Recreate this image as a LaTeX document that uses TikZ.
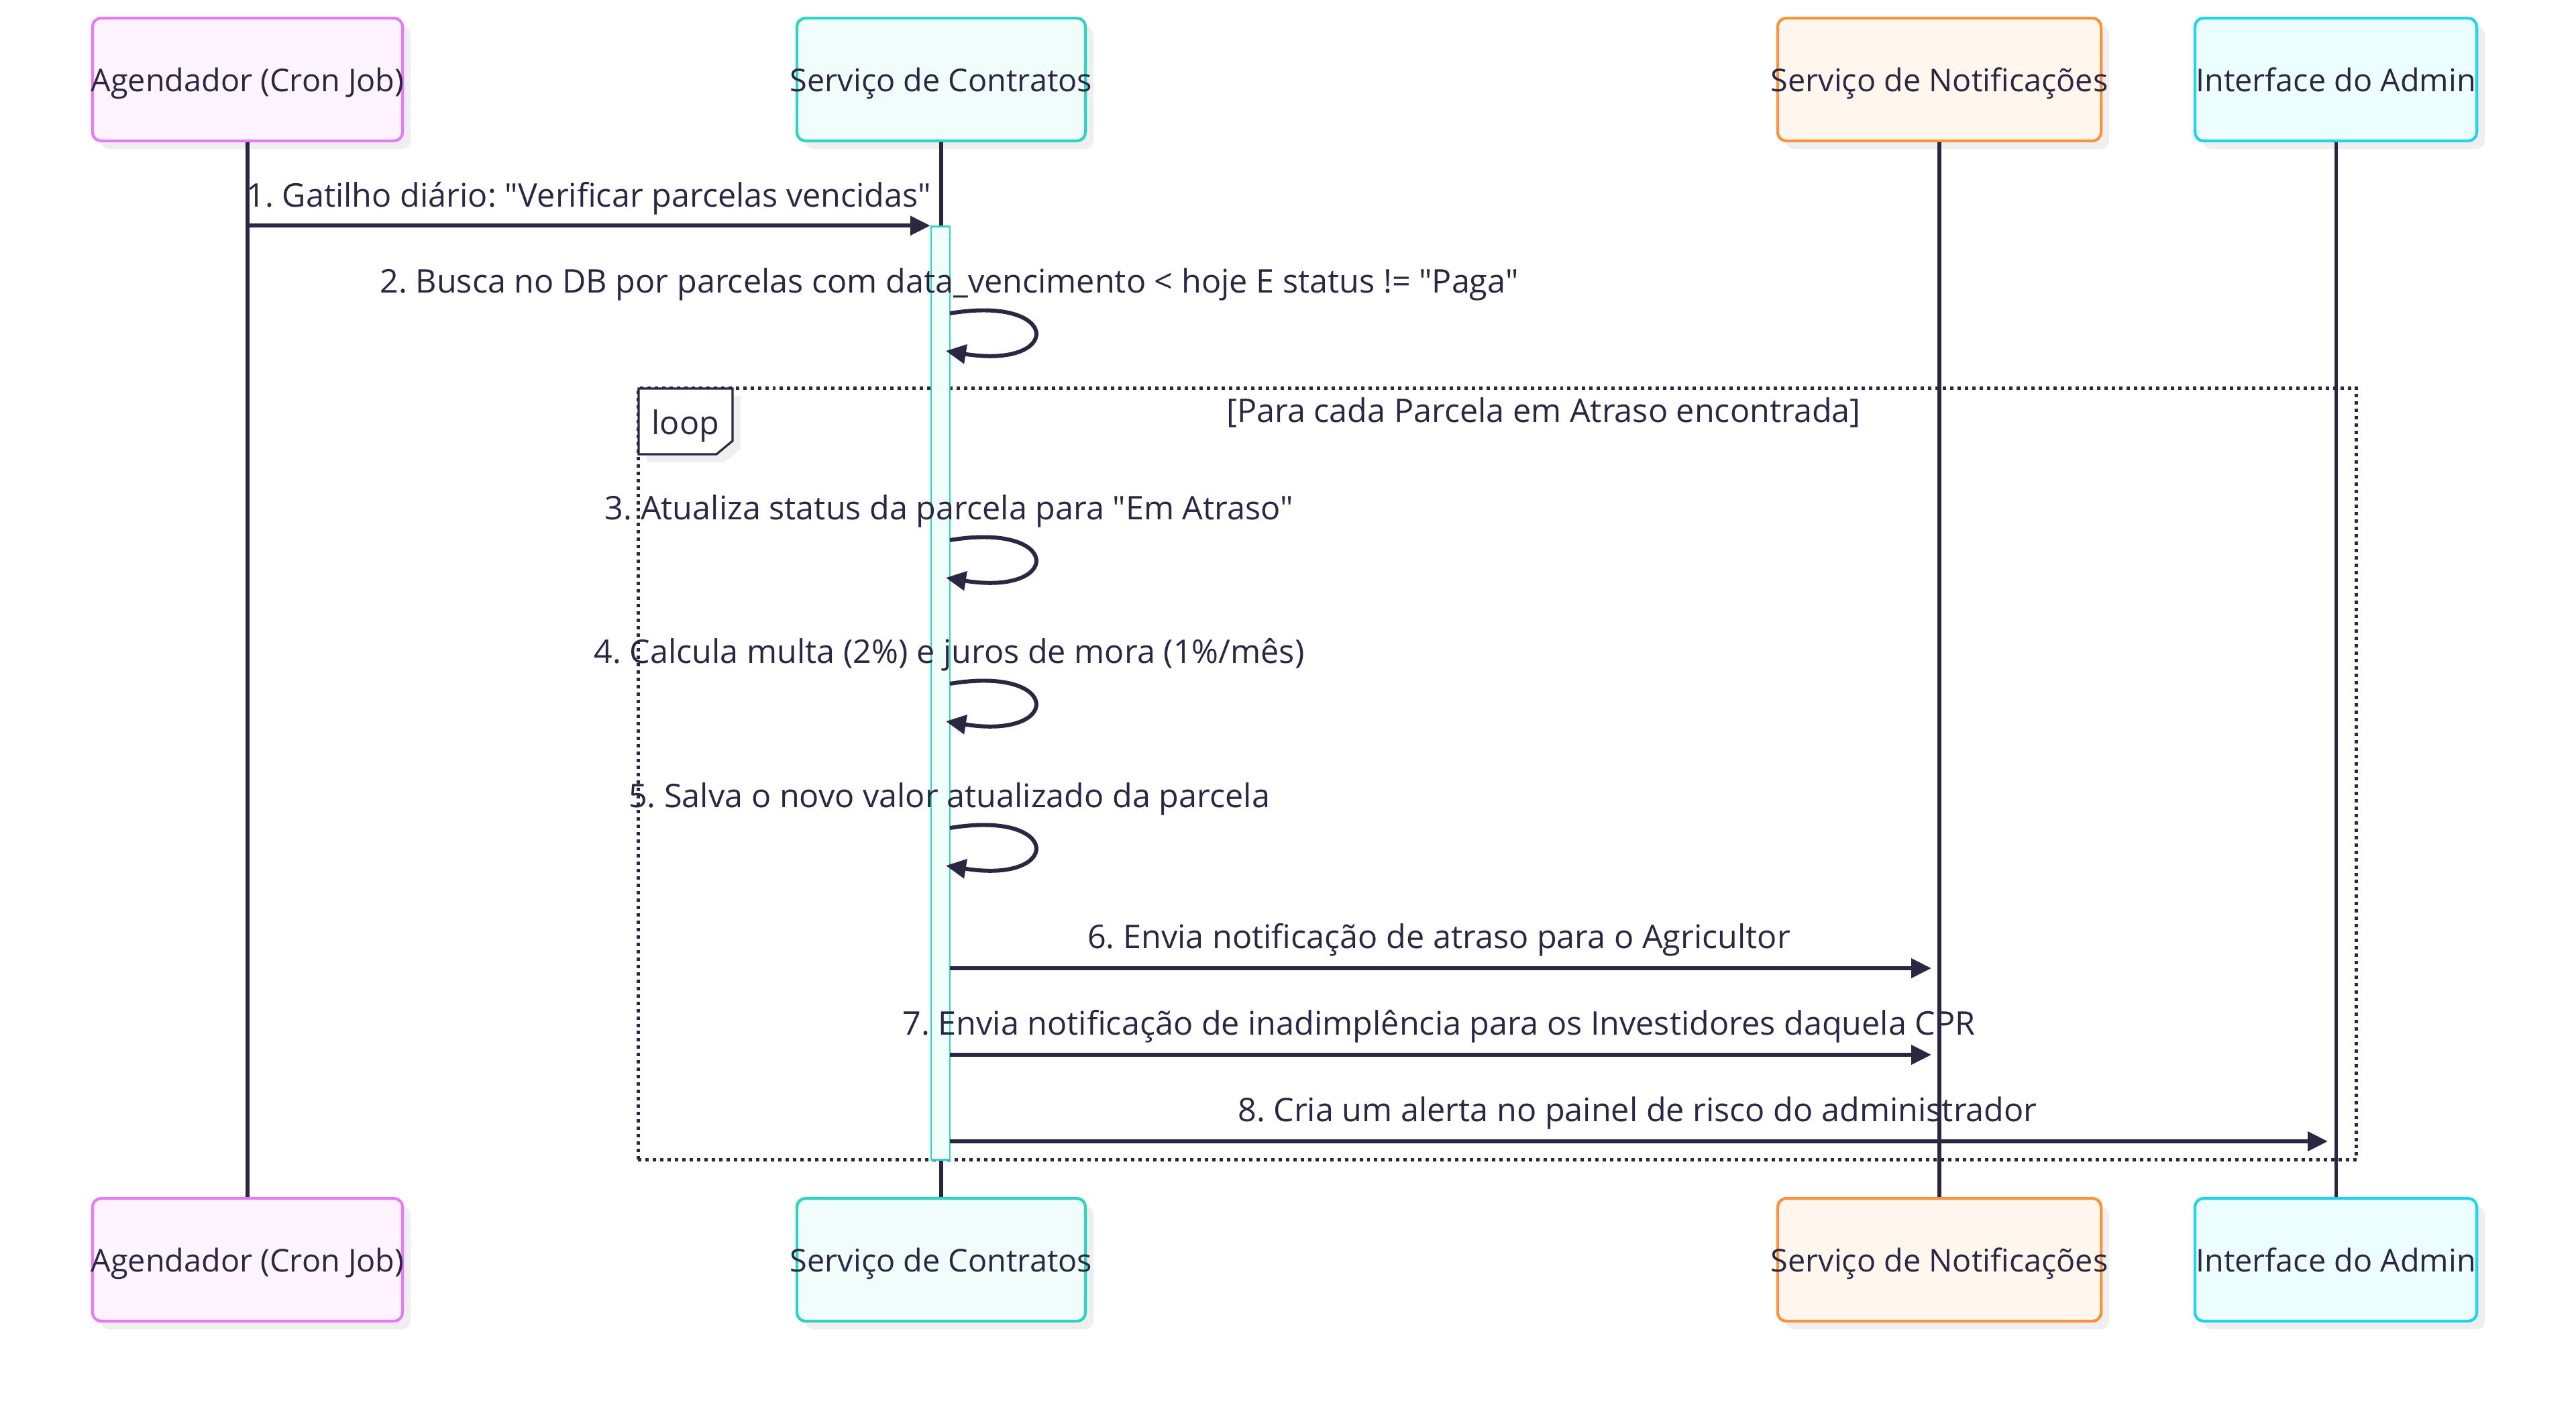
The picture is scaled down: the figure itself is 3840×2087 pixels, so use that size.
\documentclass[tikz,border=0pt]{standalone}
\usepackage{fontspec}
\setmainfont{Open Sans}[Ligatures=TeXOff]
\frenchspacing
\usetikzlibrary{arrows.meta,shadows}
\definecolor{ink}{HTML}{2B2641}
\definecolor{shadowgray}{HTML}{EFEFEF}
\definecolor{magS}{HTML}{E879F9}
\definecolor{magF}{HTML}{FDF4FF}
\definecolor{tealS}{HTML}{2DD4BF}
\definecolor{tealF}{HTML}{F0FDFA}
\definecolor{oraS}{HTML}{FB923C}
\definecolor{oraF}{HTML}{FFF7ED}
\definecolor{cyaS}{HTML}{22D3EE}
\definecolor{cyaF}{HTML}{ECFEFF}
\begin{document}
\begin{tikzpicture}[x=0.01cm,y=-0.01cm,
  every node/.style={font=\fontsize{13.8pt}{16pt}\selectfont, text=ink},
  actor/.style={draw, rounded corners=0.13cm, line width=1.2pt,
    minimum width=#1, minimum height=1.83cm, inner sep=0pt,
    text height=0.35cm, text depth=0cm, font=\fontsize{13.3pt}{16pt}\selectfont,
    drop shadow={shadow xshift=0.12cm, shadow yshift=-0.12cm, fill=shadowgray, opacity=1}},
  lifeline/.style={draw=ink, line width=1.45pt},
  msg/.style={draw=ink, line width=1.7pt, -{Triangle[length=8.5pt,width=8pt]}},
  lbl/.style={anchor=base, inner sep=0pt},
  actbar/.style={draw=tealS, fill=tealF, line width=0.75pt, inner sep=0pt},
  loopframe/.style={draw=ink, line width=1.42pt, dash pattern=on 1.42pt off 1.7pt, inner sep=0pt}
]
\useasboundingbox (0,0) rectangle (3840,2087);
\fill[white] (0,0) rectangle (3840,2087);

% actors top
\node[actor=4.62cm, draw=magS, fill=magF] (aT) at (369,118.5) {\makebox[0pt]{Agendador (Cron Job)}};
\node[actor=4.30cm, draw=tealS, fill=tealF] (cT) at (1403,118.5) {\makebox[0pt]{Serviço de Contratos}};
\node[actor=4.82cm, draw=oraS, fill=oraF] (nT) at (2891,118.5) {\makebox[0pt]{Serviço de Notificações}};
\node[actor=4.20cm, draw=cyaS, fill=cyaF] (dT) at (3482,118.5) {\makebox[0pt]{Interface do Admin}};
% actors bottom
\node[actor=4.62cm, draw=magS, fill=magF] (aB) at (369,1877.5) {\makebox[0pt]{Agendador (Cron Job)}};
\node[actor=4.30cm, draw=tealS, fill=tealF] (cB) at (1403,1877.5) {\makebox[0pt]{Serviço de Contratos}};
\node[actor=4.82cm, draw=oraS, fill=oraF] (nB) at (2891,1877.5) {\makebox[0pt]{Serviço de Notificações}};
\node[actor=4.20cm, draw=cyaS, fill=cyaF] (dB) at (3482,1877.5) {\makebox[0pt]{Interface do Admin}};

% lifelines
\draw[lifeline] (aT.south) -- (aB.north);
\draw[lifeline] (cT.south) -- (cB.north);
\draw[lifeline] (nT.south) -- (nB.north);
\draw[lifeline] (dT.south) -- (dB.north);

% loop frame
\node[loopframe, minimum width=25.60cm, minimum height=11.49cm] (loopf) at (2232,1153.5) {};

% activation
\node[actbar, minimum width=0.28cm, minimum height=13.90cm] (act) at (1402,1033) {};

% loop label box
\fill[shadowgray] (964,591) -- (1104,591) -- (1104,669) -- (1080,689) -- (964,689) -- cycle;
\draw[fill=white, draw=ink, line width=0.9pt] (952,579) -- (1092,579) -- (1092,657) -- (1068,677) -- (952,677) -- cycle;
\node[lbl] (looptxt) at (1022,647) {loop};
\node[lbl] (cond) at (2301,629) {[Para cada Parcela em Atraso encontrada]};

% message coordinates
\coordinate (m1s) at (aT.south |- act.north);
\coordinate (m1e) at (act.north west);
\coordinate (m2s) at (1416,467);  \coordinate (m2e) at (1410,523);
\coordinate (m3s) at (1416,805);  \coordinate (m3e) at (1410,861);
\coordinate (m4s) at (1416,1019); \coordinate (m4e) at (1410,1075);
\coordinate (m5s) at (1416,1234); \coordinate (m5e) at (1410,1290);
\coordinate (m6s) at (1416,1443); \coordinate (m6e) at (2879,1443);
\coordinate (m7s) at (1416,1572); \coordinate (m7e) at (2879,1572);
\coordinate (m8s) at (1416,1701); \coordinate (m8e) at (3470,1701);

% messages
\draw[msg] (m1s) -- (m1e);
\draw[msg] (m2s) .. controls (1584,439) and (1584,551) .. (m2e);
\draw[msg] (m3s) .. controls (1584,777) and (1584,889) .. (m3e);
\draw[msg] (m4s) .. controls (1584,991) and (1584,1103) .. (m4e);
\draw[msg] (m5s) .. controls (1584,1206) and (1584,1318) .. (m5e);
\draw[msg] (m6s) -- (m6e);
\draw[msg] (m7s) -- (m7e);
\draw[msg] (m8s) -- (m8e);

% labels
\node[lbl] (t1) at (878,308) {1. Gatilho diário: "Verificar parcelas vencidas"};
\node[lbl] (t2) at (1415,436) {2. Busca no DB por parcelas com data\_vencimento < hoje E status != "Paga"};
\node[lbl] (t3) at (1415,774) {3. Atualiza status da parcela para "Em Atraso"};
\node[lbl] (t4) at (1415,988) {4. Calcula multa (2\%) e juros de mora (1\%/mês)};
\node[lbl] (t5) at (1415,1203) {5. Salva o novo valor atualizado da parcela};
\node[lbl] (t6) at (2145,1413) {6. Envia notificação de atraso para o Agricultor};
\node[lbl] (t7) at (2145,1542) {7. Envia notificação de inadimplência para os Investidores daquela CPR};
\node[lbl] (t8) at (2441,1671) {8. Cria um alerta no painel de risco do administrador};
\end{tikzpicture}
\end{document}
